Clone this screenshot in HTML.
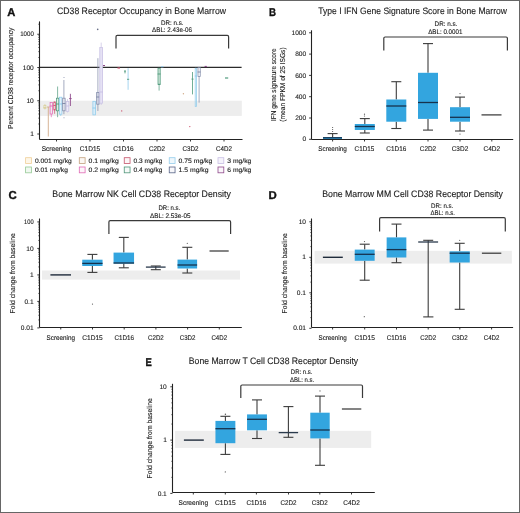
<!DOCTYPE html>
<html><head><meta charset="utf-8"><style>
.w{will-change:transform;}
text{text-rendering:geometricPrecision;}
html,body{margin:0;padding:0;background:#fff;width:520px;height:513px;overflow:hidden;font-family:"Liberation Sans",sans-serif;}
</style></head><body>
<div class="w"><svg width="520" height="513" viewBox="0 0 520 513" style="display:block">
<g font-family='"Liberation Sans", sans-serif' >
<rect x="0" y="0" width="520" height="513" fill="#fff" stroke="none" stroke-width="0"/>
<rect x="40.2" y="100.7" width="201.6" height="15.2" fill="#ededed" stroke="none" stroke-width="0"/>
<text x="7.2" y="16.1" font-size="11.2" fill="#111" font-weight="bold" stroke="#111" stroke-width="0.35">A</text>
<text x="57" y="14.2" font-size="9.3" fill="#222" stroke="#222" stroke-width="0.12" textLength="169" lengthAdjust="spacingAndGlyphs">CD38 Receptor Occupancy in Bone Marrow</text>
<text x="172.3" y="24.6" font-size="6.7" fill="#222" text-anchor="middle" stroke="#222" stroke-width="0.12" textLength="22.5" lengthAdjust="spacingAndGlyphs">DR: n.s.</text>
<text x="172.0" y="32.2" font-size="6.7" fill="#222" text-anchor="middle" stroke="#222" stroke-width="0.12" textLength="39.8" lengthAdjust="spacingAndGlyphs">ΔBL: 2.43e-06</text>
<path d="M116.0 48.5 L116.0 36.699999999999996 Q116.0 35.4 117.3 35.4 L227.29999999999998 35.4 Q228.6 35.4 228.6 36.699999999999996 L228.6 48.5" fill="none" stroke="#3a3a3a" stroke-width="1.2"/>
<line x1="39.5" y1="67.4" x2="241.6" y2="67.4" stroke="#2b2b2b" stroke-width="1.1"/>
<line x1="44.9" y1="104" x2="44.9" y2="105.5" stroke="#d9cf9a" stroke-width="0.7"/>
<line x1="44.9" y1="108.5" x2="44.9" y2="109.5" stroke="#d9cf9a" stroke-width="0.7"/>
<rect x="43.9" y="105.5" width="2.0" height="3.0" fill="none" stroke="#d9cf9a" stroke-width="0.75"/>
<line x1="43.5" y1="107.5" x2="46.3" y2="107.5" stroke="#d9cf9a" stroke-width="0.9"/>
<line x1="48.3" y1="107" x2="48.3" y2="136.5" stroke="#d2ac8a" stroke-width="0.9"/>
<line x1="47" y1="107" x2="49.6" y2="107" stroke="#d2ac8a" stroke-width="0.9"/>
<line x1="51.3" y1="114" x2="51.3" y2="117.2" stroke="#e467b8" stroke-width="0.7"/>
<rect x="50.099999999999994" y="102.5" width="2.4" height="11.5" fill="none" stroke="#e467b8" stroke-width="0.75"/>
<line x1="49.699999999999996" y1="106" x2="52.9" y2="106" stroke="#e467b8" stroke-width="0.9"/>
<line x1="54.6" y1="101.6" x2="54.6" y2="102" stroke="#cf5570" stroke-width="0.7"/>
<line x1="54.6" y1="110" x2="54.6" y2="113.8" stroke="#cf5570" stroke-width="0.7"/>
<rect x="53.800000000000004" y="102" width="1.6" height="8" fill="none" stroke="#cf5570" stroke-width="0.75"/>
<line x1="53.400000000000006" y1="105.5" x2="55.8" y2="105.5" stroke="#cf5570" stroke-width="0.9"/>
<line x1="57.6" y1="86.5" x2="57.6" y2="98.2" stroke="#4f9a7c" stroke-width="0.7"/>
<line x1="57.6" y1="110.8" x2="57.6" y2="117.2" stroke="#4f9a7c" stroke-width="0.7"/>
<rect x="56.4" y="98.2" width="2.4" height="12.599999999999994" fill="#dfeee7" stroke="#4f9a7c" stroke-width="0.75"/>
<line x1="56.0" y1="104" x2="59.2" y2="104" stroke="#4f9a7c" stroke-width="0.9"/>
<line x1="60.7" y1="97" x2="60.7" y2="97.2" stroke="#8fcbec" stroke-width="0.7"/>
<line x1="60.7" y1="114.2" x2="60.7" y2="116" stroke="#8fcbec" stroke-width="0.7"/>
<rect x="59.5" y="97.2" width="2.4" height="17.0" fill="#e4f2fb" stroke="#8fcbec" stroke-width="0.75"/>
<line x1="59.1" y1="104" x2="62.300000000000004" y2="104" stroke="#8fcbec" stroke-width="0.9"/>
<line x1="63.9" y1="80" x2="63.9" y2="98.2" stroke="#7c86a6" stroke-width="0.7"/>
<line x1="63.9" y1="110.8" x2="63.9" y2="114.2" stroke="#7c86a6" stroke-width="0.7"/>
<rect x="62.699999999999996" y="98.2" width="2.4" height="12.599999999999994" fill="#e6e8f0" stroke="#7c86a6" stroke-width="0.75"/>
<line x1="62.3" y1="103.5" x2="65.5" y2="103.5" stroke="#7c86a6" stroke-width="0.9"/>
<circle cx="64" cy="77.5" r="0.5" fill="#7c86a6"/>
<circle cx="64" cy="117.7" r="0.5" fill="#7c86a6"/>
<line x1="67.5" y1="99" x2="67.5" y2="101.6" stroke="#c7c0e4" stroke-width="0.7"/>
<line x1="67.5" y1="111.3" x2="67.5" y2="112.5" stroke="#c7c0e4" stroke-width="0.7"/>
<rect x="66.2" y="101.6" width="2.6" height="9.700000000000003" fill="#efedf8" stroke="#c7c0e4" stroke-width="0.75"/>
<line x1="65.8" y1="106" x2="69.2" y2="106" stroke="#c7c0e4" stroke-width="0.9"/>
<line x1="70.4" y1="93.8" x2="70.4" y2="106" stroke="#8f4a8c" stroke-width="0.9"/>
<line x1="69.2" y1="98.6" x2="71.6" y2="98.6" stroke="#8f4a8c" stroke-width="1.0"/>
<rect x="92.9" y="101.3" width="2.6" height="13.600000000000009" fill="#d9ecf8" stroke="#8fcbec" stroke-width="0.75"/>
<line x1="92.5" y1="108" x2="95.9" y2="108" stroke="#8fcbec" stroke-width="0.9"/>
<line x1="97.9" y1="58.2" x2="97.9" y2="92.5" stroke="#7c86a6" stroke-width="0.7"/>
<line x1="97.9" y1="104.2" x2="97.9" y2="111" stroke="#7c86a6" stroke-width="0.7"/>
<rect x="96.7" y="92.5" width="2.4" height="11.700000000000003" fill="#d6d9e6" stroke="#7c86a6" stroke-width="0.75"/>
<line x1="96.3" y1="97" x2="99.50000000000001" y2="97" stroke="#7c86a6" stroke-width="0.9"/>
<line x1="101.2" y1="42.6" x2="101.2" y2="47.5" stroke="#c7c0e4" stroke-width="0.7"/>
<line x1="101.2" y1="103.2" x2="101.2" y2="105" stroke="#c7c0e4" stroke-width="0.7"/>
<rect x="99.8" y="47.5" width="2.8" height="55.7" fill="#e6e2f4" stroke="#c7c0e4" stroke-width="0.75"/>
<line x1="99.39999999999999" y1="92" x2="103.00000000000001" y2="92" stroke="#c7c0e4" stroke-width="0.9"/>
<circle cx="97.7" cy="29.4" r="0.8" fill="#6a7088"/>
<line x1="103" y1="65.5" x2="105" y2="65.5" stroke="#8f4a8c" stroke-width="1.2"/>
<line x1="117.5" y1="68" x2="120" y2="68" stroke="#cf5570" stroke-width="1.2"/>
<circle cx="121.7" cy="110.9" r="0.7" fill="#cf5570"/>
<path d="M124 70.5 L126 70.5 L125 74 Z" fill="#4f9a7c"/>
<line x1="128.1" y1="68.2" x2="128.1" y2="89.8" stroke="#8fcbec" stroke-width="0.8"/>
<line x1="127" y1="79.3" x2="129.2" y2="79.3" stroke="#4f9a7c" stroke-width="0.9"/>
<line x1="159.1" y1="84.6" x2="159.1" y2="90.6" stroke="#4f9a7c" stroke-width="0.7"/>
<rect x="158.0" y="68.2" width="2.2" height="16.39999999999999" fill="#cfe5da" stroke="#4f9a7c" stroke-width="0.75"/>
<line x1="157.6" y1="74" x2="160.6" y2="74" stroke="#4f9a7c" stroke-width="0.9"/>
<line x1="158" y1="84.3" x2="160.3" y2="84.3" stroke="#4f9a7c" stroke-width="1"/>
<line x1="161" y1="66.8" x2="163.5" y2="66.8" stroke="#8fcbec" stroke-width="1"/>
<circle cx="183.4" cy="93.7" r="0.7" fill="#d2ac8a"/>
<circle cx="189.8" cy="126.6" r="0.7" fill="#cf5570"/>
<line x1="192.5" y1="72" x2="192.5" y2="94.4" stroke="#4f9a7c" stroke-width="0.8"/>
<line x1="191.5" y1="79.1" x2="193.5" y2="79.1" stroke="#4f9a7c" stroke-width="1"/>
<rect x="195.20000000000002" y="68.2" width="1.4" height="38.2" fill="none" stroke="#8fcbec" stroke-width="0.75"/>
<line x1="194.8" y1="76" x2="197.0" y2="76" stroke="#8fcbec" stroke-width="0.9"/>
<line x1="199.1" y1="76.4" x2="199.1" y2="102.6" stroke="#7c86a6" stroke-width="0.7"/>
<rect x="198.0" y="67.5" width="2.2" height="8.900000000000006" fill="none" stroke="#7c86a6" stroke-width="0.75"/>
<line x1="197.6" y1="72" x2="200.6" y2="72" stroke="#7c86a6" stroke-width="0.9"/>
<line x1="204.6" y1="66.5" x2="206.8" y2="66.5" stroke="#8f4a8c" stroke-width="1.2"/>
<line x1="225" y1="78" x2="228.2" y2="78" stroke="#4f9a7c" stroke-width="1.2"/>
<line x1="39.5" y1="21.4" x2="39.5" y2="139.5" stroke="#222" stroke-width="1.1"/>
<line x1="37.3" y1="134.0" x2="39.5" y2="134.0" stroke="#222" stroke-width="0.9"/>
<line x1="38.2" y1="123.99075264417263" x2="39.5" y2="123.99075264417263" stroke="#222" stroke-width="0.6"/>
<line x1="38.2" y1="118.13571828057123" x2="39.5" y2="118.13571828057123" stroke="#222" stroke-width="0.6"/>
<line x1="38.2" y1="113.98150528834525" x2="39.5" y2="113.98150528834525" stroke="#222" stroke-width="0.6"/>
<line x1="38.2" y1="110.75924735582737" x2="39.5" y2="110.75924735582737" stroke="#222" stroke-width="0.6"/>
<line x1="38.2" y1="108.12647092474384" x2="39.5" y2="108.12647092474384" stroke="#222" stroke-width="0.6"/>
<line x1="38.2" y1="105.90049016952597" x2="39.5" y2="105.90049016952597" stroke="#222" stroke-width="0.6"/>
<line x1="38.2" y1="103.97225793251788" x2="39.5" y2="103.97225793251788" stroke="#222" stroke-width="0.6"/>
<line x1="38.2" y1="102.27143656114245" x2="39.5" y2="102.27143656114245" stroke="#222" stroke-width="0.6"/>
<line x1="37.3" y1="100.75" x2="39.5" y2="100.75" stroke="#222" stroke-width="0.9"/>
<line x1="38.2" y1="90.74075264417263" x2="39.5" y2="90.74075264417263" stroke="#222" stroke-width="0.6"/>
<line x1="38.2" y1="84.88571828057123" x2="39.5" y2="84.88571828057123" stroke="#222" stroke-width="0.6"/>
<line x1="38.2" y1="80.73150528834525" x2="39.5" y2="80.73150528834525" stroke="#222" stroke-width="0.6"/>
<line x1="38.2" y1="77.50924735582737" x2="39.5" y2="77.50924735582737" stroke="#222" stroke-width="0.6"/>
<line x1="38.2" y1="74.87647092474384" x2="39.5" y2="74.87647092474384" stroke="#222" stroke-width="0.6"/>
<line x1="38.2" y1="72.65049016952597" x2="39.5" y2="72.65049016952597" stroke="#222" stroke-width="0.6"/>
<line x1="38.2" y1="70.72225793251788" x2="39.5" y2="70.72225793251788" stroke="#222" stroke-width="0.6"/>
<line x1="38.2" y1="69.02143656114245" x2="39.5" y2="69.02143656114245" stroke="#222" stroke-width="0.6"/>
<line x1="37.3" y1="67.5" x2="39.5" y2="67.5" stroke="#222" stroke-width="0.9"/>
<line x1="38.2" y1="57.49075264417263" x2="39.5" y2="57.49075264417263" stroke="#222" stroke-width="0.6"/>
<line x1="38.2" y1="51.63571828057121" x2="39.5" y2="51.63571828057121" stroke="#222" stroke-width="0.6"/>
<line x1="38.2" y1="47.48150528834525" x2="39.5" y2="47.48150528834525" stroke="#222" stroke-width="0.6"/>
<line x1="38.2" y1="44.25924735582737" x2="39.5" y2="44.25924735582737" stroke="#222" stroke-width="0.6"/>
<line x1="38.2" y1="41.626470924743856" x2="39.5" y2="41.626470924743856" stroke="#222" stroke-width="0.6"/>
<line x1="38.2" y1="39.40049016952595" x2="39.5" y2="39.40049016952595" stroke="#222" stroke-width="0.6"/>
<line x1="38.2" y1="37.47225793251786" x2="39.5" y2="37.47225793251786" stroke="#222" stroke-width="0.6"/>
<line x1="38.2" y1="35.77143656114245" x2="39.5" y2="35.77143656114245" stroke="#222" stroke-width="0.6"/>
<line x1="37.3" y1="34.25" x2="39.5" y2="34.25" stroke="#222" stroke-width="0.9"/>
<line x1="38.2" y1="24.24075264417263" x2="39.5" y2="24.24075264417263" stroke="#222" stroke-width="0.6"/>
<text x="33.8" y="136.1" font-size="6.6" fill="#222" text-anchor="end" stroke="#222" stroke-width="0.12">1</text>
<text x="33.8" y="102.85" font-size="6.6" fill="#222" text-anchor="end" stroke="#222" stroke-width="0.12">10</text>
<text x="33.8" y="69.6" font-size="6.6" fill="#222" text-anchor="end" stroke="#222" stroke-width="0.12">100</text>
<text x="33.8" y="36.35" font-size="6.6" fill="#222" text-anchor="end" stroke="#222" stroke-width="0.12" textLength="13.6" lengthAdjust="spacingAndGlyphs">1000</text>
<line x1="39.5" y1="139.5" x2="242.5" y2="139.5" stroke="#222" stroke-width="1.1"/>
<line x1="56.5" y1="139.5" x2="56.5" y2="141.5" stroke="#222" stroke-width="0.9"/>
<text x="56.5" y="151.0" font-size="6.8" fill="#222" text-anchor="middle" stroke="#222" stroke-width="0.12" textLength="29.7" lengthAdjust="spacingAndGlyphs">Screening</text>
<line x1="90" y1="139.5" x2="90" y2="141.5" stroke="#222" stroke-width="0.9"/>
<text x="90" y="151.0" font-size="6.8" fill="#222" text-anchor="middle" stroke="#222" stroke-width="0.12" textLength="20.3" lengthAdjust="spacingAndGlyphs">C1D15</text>
<line x1="123.5" y1="139.5" x2="123.5" y2="141.5" stroke="#222" stroke-width="0.9"/>
<text x="123.5" y="151.0" font-size="6.8" fill="#222" text-anchor="middle" stroke="#222" stroke-width="0.12" textLength="20.3" lengthAdjust="spacingAndGlyphs">C1D16</text>
<line x1="157" y1="139.5" x2="157" y2="141.5" stroke="#222" stroke-width="0.9"/>
<text x="157" y="151.0" font-size="6.8" fill="#222" text-anchor="middle" stroke="#222" stroke-width="0.12" textLength="16.1" lengthAdjust="spacingAndGlyphs">C2D2</text>
<line x1="190.5" y1="139.5" x2="190.5" y2="141.5" stroke="#222" stroke-width="0.9"/>
<text x="190.5" y="151.0" font-size="6.8" fill="#222" text-anchor="middle" stroke="#222" stroke-width="0.12" textLength="16.1" lengthAdjust="spacingAndGlyphs">C3D2</text>
<line x1="224" y1="139.5" x2="224" y2="141.5" stroke="#222" stroke-width="0.9"/>
<text x="224" y="151.0" font-size="6.8" fill="#222" text-anchor="middle" stroke="#222" stroke-width="0.12" textLength="16" lengthAdjust="spacingAndGlyphs">C4D2</text>
<text x="13.0" y="78.3" font-size="7.2" fill="#222" text-anchor="middle" stroke="#222" stroke-width="0.12" textLength="101.3" lengthAdjust="spacingAndGlyphs" transform="rotate(-90 13.0 78.3)">Percent CD38 receptor occupancy</text>
<rect x="25.6" y="157.7" width="5.8" height="5.8" fill="#fdf6e8" stroke="#efcf98" stroke-width="0.8"/>
<text x="34.900000000000006" y="162.6" font-size="6.4" fill="#222" stroke="#222" stroke-width="0.12" textLength="36.9" lengthAdjust="spacingAndGlyphs">0.001 mg/kg</text>
<rect x="79.3" y="157.7" width="5.8" height="5.8" fill="#fbf7f3" stroke="#c2a07e" stroke-width="0.8"/>
<text x="88.6" y="162.6" font-size="6.4" fill="#222" stroke="#222" stroke-width="0.12" textLength="30.1" lengthAdjust="spacingAndGlyphs">0.1 mg/kg</text>
<rect x="124.25" y="157.7" width="5.8" height="5.8" fill="#fcf6f7" stroke="#c55369" stroke-width="0.8"/>
<text x="133.55" y="162.6" font-size="6.4" fill="#222" stroke="#222" stroke-width="0.12" textLength="28.75" lengthAdjust="spacingAndGlyphs">0.3 mg/kg</text>
<rect x="169.25" y="157.7" width="5.8" height="5.8" fill="#eef7fc" stroke="#94cdec" stroke-width="0.8"/>
<text x="178.55" y="162.6" font-size="6.4" fill="#222" stroke="#222" stroke-width="0.12" textLength="33.75" lengthAdjust="spacingAndGlyphs">0.75 mg/kg</text>
<rect x="218.0" y="157.7" width="5.8" height="5.8" fill="#f5f3fb" stroke="#c8bfe4" stroke-width="0.8"/>
<text x="227.3" y="162.6" font-size="6.4" fill="#222" stroke="#222" stroke-width="0.12" textLength="24" lengthAdjust="spacingAndGlyphs">3 mg/kg</text>
<rect x="25.6" y="167.0" width="5.8" height="5.8" fill="#f0f8f0" stroke="#95c995" stroke-width="0.8"/>
<text x="34.900000000000006" y="171.9" font-size="6.4" fill="#222" stroke="#222" stroke-width="0.12" textLength="33" lengthAdjust="spacingAndGlyphs">0.01 mg/kg</text>
<rect x="79.3" y="167.0" width="5.8" height="5.8" fill="#fdf5fa" stroke="#e06ab6" stroke-width="0.8"/>
<text x="88.6" y="171.9" font-size="6.4" fill="#222" stroke="#222" stroke-width="0.12" textLength="30.1" lengthAdjust="spacingAndGlyphs">0.2 mg/kg</text>
<rect x="124.25" y="167.0" width="5.8" height="5.8" fill="#f6faf8" stroke="#4f9478" stroke-width="0.8"/>
<text x="133.55" y="171.9" font-size="6.4" fill="#222" stroke="#222" stroke-width="0.12" textLength="28.75" lengthAdjust="spacingAndGlyphs">0.4 mg/kg</text>
<rect x="169.25" y="167.0" width="5.8" height="5.8" fill="#f7f7fa" stroke="#586488" stroke-width="0.8"/>
<text x="178.55" y="171.9" font-size="6.4" fill="#222" stroke="#222" stroke-width="0.12" textLength="30" lengthAdjust="spacingAndGlyphs">1.5 mg/kg</text>
<rect x="218.0" y="167.0" width="5.8" height="5.8" fill="#faf6fa" stroke="#8f4a8c" stroke-width="0.8"/>
<text x="227.3" y="171.9" font-size="6.4" fill="#222" stroke="#222" stroke-width="0.12" textLength="24" lengthAdjust="spacingAndGlyphs">6 mg/kg</text>
<text x="268.9" y="16.1" font-size="11.2" fill="#111" font-weight="bold" stroke="#111" stroke-width="0.35" textLength="7.0" lengthAdjust="spacingAndGlyphs">B</text>
<text x="318.3" y="14.2" font-size="9.3" fill="#222" stroke="#222" stroke-width="0.12" textLength="188.7" lengthAdjust="spacingAndGlyphs">Type I IFN Gene Signature Score in Bone Marrow</text>
<text x="446.0" y="26.3" font-size="6.7" fill="#222" text-anchor="middle" stroke="#222" stroke-width="0.12" textLength="22.9" lengthAdjust="spacingAndGlyphs">DR: n.s.</text>
<text x="445.3" y="33.9" font-size="6.7" fill="#222" text-anchor="middle" stroke="#222" stroke-width="0.12" textLength="34.2" lengthAdjust="spacingAndGlyphs">ΔBL: 0.0001</text>
<path d="M383.8 50.4 L383.8 38.3 Q383.8 37.0 385.1 37.0 L506.09999999999997 37.0 Q507.4 37.0 507.4 38.3 L507.4 50.4" fill="none" stroke="#3a3a3a" stroke-width="1.2"/>
<line x1="332.6" y1="133.6" x2="332.6" y2="139.3" stroke="#3c3c3c" stroke-width="1.1"/>
<line x1="327.6" y1="133.6" x2="337.6" y2="133.6" stroke="#3c3c3c" stroke-width="1.1"/>
<rect x="323" y="137" width="19" height="2.3" fill="#33a5df" stroke="none" stroke-width="0"/>
<line x1="323" y1="137.8" x2="342" y2="137.8" stroke="#17324d" stroke-width="1.3"/>
<circle cx="332.6" cy="127.5" r="0.6" fill="#555"/>
<circle cx="332.6" cy="129.5" r="0.6" fill="#555"/>
<circle cx="332.6" cy="131.5" r="0.6" fill="#555"/>
<circle cx="332.6" cy="135.5" r="0.6" fill="#555"/>
<line x1="364.8" y1="118.6" x2="364.8" y2="124.0" stroke="#3c3c3c" stroke-width="1.1"/>
<line x1="359.8" y1="118.6" x2="369.8" y2="118.6" stroke="#3c3c3c" stroke-width="1.1"/>
<line x1="364.8" y1="130.0" x2="364.8" y2="133.0" stroke="#3c3c3c" stroke-width="1.1"/>
<line x1="359.8" y1="133.0" x2="369.8" y2="133.0" stroke="#3c3c3c" stroke-width="1.1"/>
<rect x="354.8" y="124.0" width="20" height="6.0" fill="#33a5df" stroke="none" stroke-width="0"/>
<line x1="354.8" y1="126.5" x2="374.8" y2="126.5" stroke="#17324d" stroke-width="1.3"/>
<circle cx="364.5" cy="116.0" r="0.6" fill="#555"/>
<circle cx="364.5" cy="114.2" r="0.6" fill="#555"/>
<line x1="396.3" y1="81.7" x2="396.3" y2="99.5" stroke="#3c3c3c" stroke-width="1.1"/>
<line x1="391.3" y1="81.7" x2="401.3" y2="81.7" stroke="#3c3c3c" stroke-width="1.1"/>
<line x1="396.3" y1="121.7" x2="396.3" y2="128.5" stroke="#3c3c3c" stroke-width="1.1"/>
<line x1="391.3" y1="128.5" x2="401.3" y2="128.5" stroke="#3c3c3c" stroke-width="1.1"/>
<rect x="386.3" y="99.5" width="20" height="22.200000000000003" fill="#33a5df" stroke="none" stroke-width="0"/>
<line x1="386.3" y1="106.0" x2="406.3" y2="106.0" stroke="#17324d" stroke-width="1.3"/>
<line x1="428.0" y1="43.6" x2="428.0" y2="72.8" stroke="#3c3c3c" stroke-width="1.1"/>
<line x1="423.0" y1="43.6" x2="433.0" y2="43.6" stroke="#3c3c3c" stroke-width="1.1"/>
<line x1="428.0" y1="118.9" x2="428.0" y2="130.1" stroke="#3c3c3c" stroke-width="1.1"/>
<line x1="423.0" y1="130.1" x2="433.0" y2="130.1" stroke="#3c3c3c" stroke-width="1.1"/>
<rect x="418.0" y="72.8" width="20" height="46.10000000000001" fill="#33a5df" stroke="none" stroke-width="0"/>
<line x1="418.0" y1="102.5" x2="438.0" y2="102.5" stroke="#17324d" stroke-width="1.3"/>
<line x1="460.0" y1="97.1" x2="460.0" y2="107.2" stroke="#3c3c3c" stroke-width="1.1"/>
<line x1="455.0" y1="97.1" x2="465.0" y2="97.1" stroke="#3c3c3c" stroke-width="1.1"/>
<line x1="460.0" y1="121.7" x2="460.0" y2="131.0" stroke="#3c3c3c" stroke-width="1.1"/>
<line x1="455.0" y1="131.0" x2="465.0" y2="131.0" stroke="#3c3c3c" stroke-width="1.1"/>
<rect x="450.0" y="107.2" width="20" height="14.5" fill="#33a5df" stroke="none" stroke-width="0"/>
<line x1="450.0" y1="117.3" x2="470.0" y2="117.3" stroke="#17324d" stroke-width="1.3"/>
<circle cx="460" cy="93.6" r="0.6" fill="#555"/>
<circle cx="460" cy="134.1" r="0.6" fill="#555"/>
<line x1="481.5" y1="114.9" x2="501.5" y2="114.9" stroke="#333" stroke-width="1.2"/>
<line x1="311.5" y1="30.3" x2="311.5" y2="139.5" stroke="#222" stroke-width="1.1"/>
<line x1="309.1" y1="139.3" x2="311.5" y2="139.3" stroke="#222" stroke-width="0.9"/>
<text x="306.2" y="141.4" font-size="6.6" fill="#222" text-anchor="end" stroke="#222" stroke-width="0.12">0</text>
<line x1="309.1" y1="118.00000000000001" x2="311.5" y2="118.00000000000001" stroke="#222" stroke-width="0.9"/>
<text x="306.2" y="120.10000000000001" font-size="6.6" fill="#222" text-anchor="end" stroke="#222" stroke-width="0.12">200</text>
<line x1="309.1" y1="96.70000000000002" x2="311.5" y2="96.70000000000002" stroke="#222" stroke-width="0.9"/>
<text x="306.2" y="98.80000000000001" font-size="6.6" fill="#222" text-anchor="end" stroke="#222" stroke-width="0.12">400</text>
<line x1="309.1" y1="75.4" x2="311.5" y2="75.4" stroke="#222" stroke-width="0.9"/>
<text x="306.2" y="77.5" font-size="6.6" fill="#222" text-anchor="end" stroke="#222" stroke-width="0.12">600</text>
<line x1="309.1" y1="54.10000000000001" x2="311.5" y2="54.10000000000001" stroke="#222" stroke-width="0.9"/>
<text x="306.2" y="56.20000000000001" font-size="6.6" fill="#222" text-anchor="end" stroke="#222" stroke-width="0.12">800</text>
<line x1="309.1" y1="32.80000000000001" x2="311.5" y2="32.80000000000001" stroke="#222" stroke-width="0.9"/>
<text x="306.2" y="34.90000000000001" font-size="6.6" fill="#222" text-anchor="end" stroke="#222" stroke-width="0.12">1000</text>
<line x1="311.5" y1="139.5" x2="513.2" y2="139.5" stroke="#222" stroke-width="1.1"/>
<line x1="332.6" y1="139.5" x2="332.6" y2="141.5" stroke="#222" stroke-width="0.9"/>
<text x="332.6" y="151.2" font-size="6.8" fill="#222" text-anchor="middle" stroke="#222" stroke-width="0.12" textLength="28.6" lengthAdjust="spacingAndGlyphs">Screening</text>
<line x1="364.5" y1="139.5" x2="364.5" y2="141.5" stroke="#222" stroke-width="0.9"/>
<text x="364.5" y="151.2" font-size="6.8" fill="#222" text-anchor="middle" stroke="#222" stroke-width="0.12" textLength="19.8" lengthAdjust="spacingAndGlyphs">C1D15</text>
<line x1="396.3" y1="139.5" x2="396.3" y2="141.5" stroke="#222" stroke-width="0.9"/>
<text x="396.3" y="151.2" font-size="6.8" fill="#222" text-anchor="middle" stroke="#222" stroke-width="0.12" textLength="20" lengthAdjust="spacingAndGlyphs">C1D16</text>
<line x1="428.0" y1="139.5" x2="428.0" y2="141.5" stroke="#222" stroke-width="0.9"/>
<text x="428.0" y="151.2" font-size="6.8" fill="#222" text-anchor="middle" stroke="#222" stroke-width="0.12" textLength="16.4" lengthAdjust="spacingAndGlyphs">C2D2</text>
<line x1="460.0" y1="139.5" x2="460.0" y2="141.5" stroke="#222" stroke-width="0.9"/>
<text x="460.0" y="151.2" font-size="6.8" fill="#222" text-anchor="middle" stroke="#222" stroke-width="0.12" textLength="16.6" lengthAdjust="spacingAndGlyphs">C3D2</text>
<line x1="491.8" y1="139.5" x2="491.8" y2="141.5" stroke="#222" stroke-width="0.9"/>
<text x="491.8" y="151.2" font-size="6.8" fill="#222" text-anchor="middle" stroke="#222" stroke-width="0.12" textLength="16.7" lengthAdjust="spacingAndGlyphs">C4D2</text>
<text x="276.3" y="84.7" font-size="7.2" fill="#222" text-anchor="middle" stroke="#222" stroke-width="0.12" textLength="72.7" lengthAdjust="spacingAndGlyphs" transform="rotate(-90 276.3 84.7)">IFN gene signature score</text>
<text x="284.8" y="84.5" font-size="7.2" fill="#222" text-anchor="middle" stroke="#222" stroke-width="0.12" textLength="74.3" lengthAdjust="spacingAndGlyphs" transform="rotate(-90 284.8 84.5)">(mean FPKM of 25 ISGs)</text>
<rect x="42.0" y="270.5" width="198.0" height="9.1" fill="#ededed" stroke="none" stroke-width="0"/>
<text x="8.5" y="199.0" font-size="11.4" fill="#111" font-weight="bold" stroke="#111" stroke-width="0.35">C</text>
<text x="52.3" y="196.8" font-size="9.3" fill="#222" stroke="#222" stroke-width="0.12" textLength="178.5" lengthAdjust="spacingAndGlyphs">Bone Marrow NK Cell CD38 Receptor Density</text>
<text x="169.4" y="209.8" font-size="6.7" fill="#222" text-anchor="middle" stroke="#222" stroke-width="0.12" textLength="21.8" lengthAdjust="spacingAndGlyphs">DR: n.s.</text>
<text x="170.2" y="218.0" font-size="6.7" fill="#222" text-anchor="middle" stroke="#222" stroke-width="0.12" textLength="40.5" lengthAdjust="spacingAndGlyphs">ΔBL: 2.53e-05</text>
<path d="M108.9 234 L108.9 221.9 Q108.9 220.6 110.2 220.6 L229.29999999999998 220.6 Q230.6 220.6 230.6 221.9 L230.6 234" fill="none" stroke="#3a3a3a" stroke-width="1.2"/>
<line x1="50.4" y1="274.9" x2="71" y2="274.9" stroke="#1f2b3b" stroke-width="1.4"/>
<line x1="92.4" y1="254.4" x2="92.4" y2="259.7" stroke="#3c3c3c" stroke-width="1.1"/>
<line x1="87.4" y1="254.4" x2="97.4" y2="254.4" stroke="#3c3c3c" stroke-width="1.1"/>
<line x1="92.4" y1="266.0" x2="92.4" y2="272.4" stroke="#3c3c3c" stroke-width="1.1"/>
<line x1="87.4" y1="272.4" x2="97.4" y2="272.4" stroke="#3c3c3c" stroke-width="1.1"/>
<rect x="82.25" y="259.7" width="20.3" height="6.300000000000011" fill="#33a5df" stroke="none" stroke-width="0"/>
<line x1="82.25" y1="263.4" x2="102.55000000000001" y2="263.4" stroke="#17324d" stroke-width="1.3"/>
<circle cx="92.5" cy="304.1" r="0.6" fill="#555"/>
<line x1="123.8" y1="237.4" x2="123.8" y2="252.6" stroke="#3c3c3c" stroke-width="1.1"/>
<line x1="118.8" y1="237.4" x2="128.8" y2="237.4" stroke="#3c3c3c" stroke-width="1.1"/>
<line x1="123.8" y1="263.6" x2="123.8" y2="267.8" stroke="#3c3c3c" stroke-width="1.1"/>
<line x1="118.8" y1="267.8" x2="128.8" y2="267.8" stroke="#3c3c3c" stroke-width="1.1"/>
<rect x="113.55" y="252.6" width="20.5" height="11.000000000000028" fill="#33a5df" stroke="none" stroke-width="0"/>
<line x1="113.55" y1="263.0" x2="134.05" y2="263.0" stroke="#17324d" stroke-width="1.3"/>
<line x1="155.8" y1="266" x2="155.8" y2="269.7" stroke="#3c3c3c" stroke-width="1.1"/>
<line x1="150.8" y1="266" x2="160.8" y2="266" stroke="#3c3c3c" stroke-width="1.1"/>
<line x1="150.8" y1="269.7" x2="160.8" y2="269.7" stroke="#3c3c3c" stroke-width="1.1"/>
<line x1="145.9" y1="267.1" x2="165.6" y2="267.1" stroke="#2a3a4c" stroke-width="1.3"/>
<line x1="187.3" y1="247.3" x2="187.3" y2="259.6" stroke="#3c3c3c" stroke-width="1.1"/>
<line x1="182.3" y1="247.3" x2="192.3" y2="247.3" stroke="#3c3c3c" stroke-width="1.1"/>
<line x1="187.3" y1="268.5" x2="187.3" y2="273.0" stroke="#3c3c3c" stroke-width="1.1"/>
<line x1="182.3" y1="273.0" x2="192.3" y2="273.0" stroke="#3c3c3c" stroke-width="1.1"/>
<rect x="177.5" y="259.6" width="19.6" height="8.899999999999977" fill="#33a5df" stroke="none" stroke-width="0"/>
<line x1="177.5" y1="265.0" x2="197.10000000000002" y2="265.0" stroke="#17324d" stroke-width="1.3"/>
<circle cx="187.3" cy="243.3" r="0.6" fill="#555"/>
<line x1="209.5" y1="251.0" x2="228.7" y2="251.0" stroke="#333" stroke-width="1.2"/>
<line x1="39.5" y1="218.5" x2="39.5" y2="327.5" stroke="#222" stroke-width="1.1"/>
<line x1="37.3" y1="327.9" x2="39.5" y2="327.9" stroke="#222" stroke-width="0.9"/>
<line x1="38.2" y1="319.9227051149045" x2="39.5" y2="319.9227051149045" stroke="#222" stroke-width="0.6"/>
<line x1="38.2" y1="315.2562867499289" x2="39.5" y2="315.2562867499289" stroke="#222" stroke-width="0.6"/>
<line x1="38.2" y1="311.945410229809" x2="39.5" y2="311.945410229809" stroke="#222" stroke-width="0.6"/>
<line x1="38.2" y1="309.37729488509547" x2="39.5" y2="309.37729488509547" stroke="#222" stroke-width="0.6"/>
<line x1="38.2" y1="307.2789918648334" x2="39.5" y2="307.2789918648334" stroke="#222" stroke-width="0.6"/>
<line x1="38.2" y1="305.5049019396222" x2="39.5" y2="305.5049019396222" stroke="#222" stroke-width="0.6"/>
<line x1="38.2" y1="303.96811534471345" x2="39.5" y2="303.96811534471345" stroke="#222" stroke-width="0.6"/>
<line x1="38.2" y1="302.6125734998579" x2="39.5" y2="302.6125734998579" stroke="#222" stroke-width="0.6"/>
<line x1="37.3" y1="301.4" x2="39.5" y2="301.4" stroke="#222" stroke-width="0.9"/>
<line x1="38.2" y1="293.4227051149045" x2="39.5" y2="293.4227051149045" stroke="#222" stroke-width="0.6"/>
<line x1="38.2" y1="288.7562867499289" x2="39.5" y2="288.7562867499289" stroke="#222" stroke-width="0.6"/>
<line x1="38.2" y1="285.445410229809" x2="39.5" y2="285.445410229809" stroke="#222" stroke-width="0.6"/>
<line x1="38.2" y1="282.87729488509547" x2="39.5" y2="282.87729488509547" stroke="#222" stroke-width="0.6"/>
<line x1="38.2" y1="280.7789918648334" x2="39.5" y2="280.7789918648334" stroke="#222" stroke-width="0.6"/>
<line x1="38.2" y1="279.0049019396222" x2="39.5" y2="279.0049019396222" stroke="#222" stroke-width="0.6"/>
<line x1="38.2" y1="277.46811534471345" x2="39.5" y2="277.46811534471345" stroke="#222" stroke-width="0.6"/>
<line x1="38.2" y1="276.1125734998579" x2="39.5" y2="276.1125734998579" stroke="#222" stroke-width="0.6"/>
<line x1="37.3" y1="274.9" x2="39.5" y2="274.9" stroke="#222" stroke-width="0.9"/>
<line x1="38.2" y1="266.9227051149045" x2="39.5" y2="266.9227051149045" stroke="#222" stroke-width="0.6"/>
<line x1="38.2" y1="262.2562867499289" x2="39.5" y2="262.2562867499289" stroke="#222" stroke-width="0.6"/>
<line x1="38.2" y1="258.945410229809" x2="39.5" y2="258.945410229809" stroke="#222" stroke-width="0.6"/>
<line x1="38.2" y1="256.37729488509547" x2="39.5" y2="256.37729488509547" stroke="#222" stroke-width="0.6"/>
<line x1="38.2" y1="254.27899186483342" x2="39.5" y2="254.27899186483342" stroke="#222" stroke-width="0.6"/>
<line x1="38.2" y1="252.5049019396222" x2="39.5" y2="252.5049019396222" stroke="#222" stroke-width="0.6"/>
<line x1="38.2" y1="250.96811534471348" x2="39.5" y2="250.96811534471348" stroke="#222" stroke-width="0.6"/>
<line x1="38.2" y1="249.61257349985786" x2="39.5" y2="249.61257349985786" stroke="#222" stroke-width="0.6"/>
<line x1="37.3" y1="248.39999999999998" x2="39.5" y2="248.39999999999998" stroke="#222" stroke-width="0.9"/>
<line x1="38.2" y1="240.4227051149045" x2="39.5" y2="240.4227051149045" stroke="#222" stroke-width="0.6"/>
<line x1="38.2" y1="235.75628674992893" x2="39.5" y2="235.75628674992893" stroke="#222" stroke-width="0.6"/>
<line x1="38.2" y1="232.44541022980897" x2="39.5" y2="232.44541022980897" stroke="#222" stroke-width="0.6"/>
<line x1="38.2" y1="229.87729488509547" x2="39.5" y2="229.87729488509547" stroke="#222" stroke-width="0.6"/>
<line x1="38.2" y1="227.77899186483342" x2="39.5" y2="227.77899186483342" stroke="#222" stroke-width="0.6"/>
<line x1="38.2" y1="226.0049019396222" x2="39.5" y2="226.0049019396222" stroke="#222" stroke-width="0.6"/>
<line x1="38.2" y1="224.46811534471348" x2="39.5" y2="224.46811534471348" stroke="#222" stroke-width="0.6"/>
<line x1="38.2" y1="223.1125734998579" x2="39.5" y2="223.1125734998579" stroke="#222" stroke-width="0.6"/>
<line x1="37.3" y1="221.89999999999998" x2="39.5" y2="221.89999999999998" stroke="#222" stroke-width="0.9"/>
<text x="33.6" y="330.0" font-size="6.6" fill="#222" text-anchor="end" stroke="#222" stroke-width="0.12">0.01</text>
<text x="33.6" y="303.5" font-size="6.6" fill="#222" text-anchor="end" stroke="#222" stroke-width="0.12">0.1</text>
<text x="33.6" y="277.0" font-size="6.6" fill="#222" text-anchor="end" stroke="#222" stroke-width="0.12">1</text>
<text x="33.6" y="250.49999999999997" font-size="6.6" fill="#222" text-anchor="end" stroke="#222" stroke-width="0.12">10</text>
<text x="33.6" y="223.99999999999997" font-size="6.6" fill="#222" text-anchor="end" stroke="#222" stroke-width="0.12" textLength="9.6" lengthAdjust="spacingAndGlyphs">100</text>
<line x1="39.5" y1="327.5" x2="241.8" y2="327.5" stroke="#222" stroke-width="1.1"/>
<line x1="60.75" y1="327.5" x2="60.75" y2="329.5" stroke="#222" stroke-width="0.9"/>
<text x="60.75" y="340.0" font-size="6.8" fill="#222" text-anchor="middle" stroke="#222" stroke-width="0.12" textLength="28.3" lengthAdjust="spacingAndGlyphs">Screening</text>
<line x1="92.5" y1="327.5" x2="92.5" y2="329.5" stroke="#222" stroke-width="0.9"/>
<text x="92.5" y="340.0" font-size="6.8" fill="#222" text-anchor="middle" stroke="#222" stroke-width="0.12" textLength="20.5" lengthAdjust="spacingAndGlyphs">C1D15</text>
<line x1="124.2" y1="327.5" x2="124.2" y2="329.5" stroke="#222" stroke-width="0.9"/>
<text x="124.2" y="340.0" font-size="6.8" fill="#222" text-anchor="middle" stroke="#222" stroke-width="0.12" textLength="19.5" lengthAdjust="spacingAndGlyphs">C1D16</text>
<line x1="155.9" y1="327.5" x2="155.9" y2="329.5" stroke="#222" stroke-width="0.9"/>
<text x="155.9" y="340.0" font-size="6.8" fill="#222" text-anchor="middle" stroke="#222" stroke-width="0.12" textLength="15.8" lengthAdjust="spacingAndGlyphs">C2D2</text>
<line x1="187.6" y1="327.5" x2="187.6" y2="329.5" stroke="#222" stroke-width="0.9"/>
<text x="187.6" y="340.0" font-size="6.8" fill="#222" text-anchor="middle" stroke="#222" stroke-width="0.12" textLength="15.8" lengthAdjust="spacingAndGlyphs">C3D2</text>
<line x1="219.3" y1="327.5" x2="219.3" y2="329.5" stroke="#222" stroke-width="0.9"/>
<text x="219.3" y="340.0" font-size="6.8" fill="#222" text-anchor="middle" stroke="#222" stroke-width="0.12" textLength="15.7" lengthAdjust="spacingAndGlyphs">C4D2</text>
<text x="14.9" y="273.3" font-size="7.2" fill="#222" text-anchor="middle" stroke="#222" stroke-width="0.12" textLength="80.3" lengthAdjust="spacingAndGlyphs" transform="rotate(-90 14.9 273.3)">Fold change from baseline</text>
<rect x="314.6" y="250.8" width="197.2" height="12.8" fill="#ededed" stroke="none" stroke-width="0"/>
<text x="268.6" y="199.0" font-size="11.4" fill="#111" font-weight="bold" stroke="#111" stroke-width="0.35">D</text>
<text x="322.2" y="196.8" font-size="9.3" fill="#222" stroke="#222" stroke-width="0.12" textLength="180.7" lengthAdjust="spacingAndGlyphs">Bone Marrow MM Cell CD38 Receptor Density</text>
<text x="442.2" y="207.5" font-size="6.7" fill="#222" text-anchor="middle" stroke="#222" stroke-width="0.12" textLength="22.2" lengthAdjust="spacingAndGlyphs">DR: n.s.</text>
<text x="442.7" y="215.0" font-size="6.7" fill="#222" text-anchor="middle" stroke="#222" stroke-width="0.12" textLength="24.6" lengthAdjust="spacingAndGlyphs">ΔBL: n.s.</text>
<path d="M379.6 231.5 L379.6 218.9 Q379.6 217.6 380.90000000000003 217.6 L504.0 217.6 Q505.3 217.6 505.3 218.9 L505.3 231.5" fill="none" stroke="#3a3a3a" stroke-width="1.2"/>
<line x1="322.9" y1="257.3" x2="342.8" y2="257.3" stroke="#1f2b3b" stroke-width="1.4"/>
<line x1="364.7" y1="244.2" x2="364.7" y2="249.6" stroke="#3c3c3c" stroke-width="1.1"/>
<line x1="359.7" y1="244.2" x2="369.7" y2="244.2" stroke="#3c3c3c" stroke-width="1.1"/>
<line x1="364.7" y1="260.8" x2="364.7" y2="280.2" stroke="#3c3c3c" stroke-width="1.1"/>
<line x1="359.7" y1="280.2" x2="369.7" y2="280.2" stroke="#3c3c3c" stroke-width="1.1"/>
<rect x="354.75" y="249.6" width="19.9" height="11.200000000000017" fill="#33a5df" stroke="none" stroke-width="0"/>
<line x1="354.75" y1="254.3" x2="374.65" y2="254.3" stroke="#17324d" stroke-width="1.3"/>
<circle cx="364.5" cy="241.6" r="0.6" fill="#555"/>
<circle cx="364.3" cy="316.7" r="0.6" fill="#555"/>
<line x1="396.5" y1="224.1" x2="396.5" y2="237.4" stroke="#3c3c3c" stroke-width="1.1"/>
<line x1="391.5" y1="224.1" x2="401.5" y2="224.1" stroke="#3c3c3c" stroke-width="1.1"/>
<line x1="396.5" y1="257.5" x2="396.5" y2="262.7" stroke="#3c3c3c" stroke-width="1.1"/>
<line x1="391.5" y1="262.7" x2="401.5" y2="262.7" stroke="#3c3c3c" stroke-width="1.1"/>
<rect x="386.65" y="237.4" width="19.7" height="20.099999999999994" fill="#33a5df" stroke="none" stroke-width="0"/>
<line x1="386.65" y1="249.6" x2="406.35" y2="249.6" stroke="#17324d" stroke-width="1.3"/>
<line x1="428.2" y1="240.3" x2="428.2" y2="316.9" stroke="#3c3c3c" stroke-width="1.1"/>
<line x1="423.2" y1="240.3" x2="433.2" y2="240.3" stroke="#3c3c3c" stroke-width="1.1"/>
<line x1="423.2" y1="316.9" x2="433.4" y2="316.9" stroke="#3c3c3c" stroke-width="1.1"/>
<line x1="418.2" y1="242.0" x2="438.1" y2="242.0" stroke="#2a3a4c" stroke-width="1.3"/>
<line x1="459.7" y1="243.3" x2="459.7" y2="251.3" stroke="#3c3c3c" stroke-width="1.1"/>
<line x1="454.7" y1="243.3" x2="464.7" y2="243.3" stroke="#3c3c3c" stroke-width="1.1"/>
<line x1="459.7" y1="262.5" x2="459.7" y2="309.3" stroke="#3c3c3c" stroke-width="1.1"/>
<line x1="454.7" y1="309.3" x2="464.7" y2="309.3" stroke="#3c3c3c" stroke-width="1.1"/>
<rect x="449.65" y="251.3" width="20.1" height="11.199999999999989" fill="#33a5df" stroke="none" stroke-width="0"/>
<line x1="449.65" y1="253.2" x2="469.75" y2="253.2" stroke="#17324d" stroke-width="1.3"/>
<circle cx="459.7" cy="240.3" r="0.6" fill="#555"/>
<line x1="481.9" y1="253.2" x2="501.3" y2="253.2" stroke="#333" stroke-width="1.2"/>
<line x1="311.5" y1="218.5" x2="311.5" y2="327.5" stroke="#222" stroke-width="1.1"/>
<line x1="309.3" y1="328.3" x2="311.5" y2="328.3" stroke="#222" stroke-width="0.9"/>
<line x1="310.2" y1="317.61343515392866" x2="311.5" y2="317.61343515392866" stroke="#222" stroke-width="0.6"/>
<line x1="310.2" y1="311.362195457452" x2="311.5" y2="311.362195457452" stroke="#222" stroke-width="0.6"/>
<line x1="310.2" y1="306.92687030785737" x2="311.5" y2="306.92687030785737" stroke="#222" stroke-width="0.6"/>
<line x1="310.2" y1="303.48656484607136" x2="311.5" y2="303.48656484607136" stroke="#222" stroke-width="0.6"/>
<line x1="310.2" y1="300.67563061138065" x2="311.5" y2="300.67563061138065" stroke="#222" stroke-width="0.6"/>
<line x1="310.2" y1="298.2990195794939" x2="311.5" y2="298.2990195794939" stroke="#222" stroke-width="0.6"/>
<line x1="310.2" y1="296.240305461786" x2="311.5" y2="296.240305461786" stroke="#222" stroke-width="0.6"/>
<line x1="310.2" y1="294.424390914904" x2="311.5" y2="294.424390914904" stroke="#222" stroke-width="0.6"/>
<line x1="309.3" y1="292.8" x2="311.5" y2="292.8" stroke="#222" stroke-width="0.9"/>
<line x1="310.2" y1="282.11343515392866" x2="311.5" y2="282.11343515392866" stroke="#222" stroke-width="0.6"/>
<line x1="310.2" y1="275.862195457452" x2="311.5" y2="275.862195457452" stroke="#222" stroke-width="0.6"/>
<line x1="310.2" y1="271.42687030785737" x2="311.5" y2="271.42687030785737" stroke="#222" stroke-width="0.6"/>
<line x1="310.2" y1="267.98656484607136" x2="311.5" y2="267.98656484607136" stroke="#222" stroke-width="0.6"/>
<line x1="310.2" y1="265.17563061138065" x2="311.5" y2="265.17563061138065" stroke="#222" stroke-width="0.6"/>
<line x1="310.2" y1="262.7990195794939" x2="311.5" y2="262.7990195794939" stroke="#222" stroke-width="0.6"/>
<line x1="310.2" y1="260.740305461786" x2="311.5" y2="260.740305461786" stroke="#222" stroke-width="0.6"/>
<line x1="310.2" y1="258.924390914904" x2="311.5" y2="258.924390914904" stroke="#222" stroke-width="0.6"/>
<line x1="309.3" y1="257.3" x2="311.5" y2="257.3" stroke="#222" stroke-width="0.9"/>
<line x1="310.2" y1="246.6134351539287" x2="311.5" y2="246.6134351539287" stroke="#222" stroke-width="0.6"/>
<line x1="310.2" y1="240.362195457452" x2="311.5" y2="240.362195457452" stroke="#222" stroke-width="0.6"/>
<line x1="310.2" y1="235.92687030785734" x2="311.5" y2="235.92687030785734" stroke="#222" stroke-width="0.6"/>
<line x1="310.2" y1="232.48656484607133" x2="311.5" y2="232.48656484607133" stroke="#222" stroke-width="0.6"/>
<line x1="310.2" y1="229.67563061138065" x2="311.5" y2="229.67563061138065" stroke="#222" stroke-width="0.6"/>
<line x1="310.2" y1="227.2990195794939" x2="311.5" y2="227.2990195794939" stroke="#222" stroke-width="0.6"/>
<line x1="310.2" y1="225.24030546178602" x2="311.5" y2="225.24030546178602" stroke="#222" stroke-width="0.6"/>
<line x1="310.2" y1="223.424390914904" x2="311.5" y2="223.424390914904" stroke="#222" stroke-width="0.6"/>
<line x1="309.3" y1="221.8" x2="311.5" y2="221.8" stroke="#222" stroke-width="0.9"/>
<text x="306.0" y="330.40000000000003" font-size="6.6" fill="#222" text-anchor="end" stroke="#222" stroke-width="0.12">0.01</text>
<text x="306.0" y="294.90000000000003" font-size="6.6" fill="#222" text-anchor="end" stroke="#222" stroke-width="0.12">0.1</text>
<text x="306.0" y="259.40000000000003" font-size="6.6" fill="#222" text-anchor="end" stroke="#222" stroke-width="0.12">1</text>
<text x="306.0" y="223.9" font-size="6.6" fill="#222" text-anchor="end" stroke="#222" stroke-width="0.12">10</text>
<line x1="311.5" y1="327.5" x2="513.1" y2="327.5" stroke="#222" stroke-width="1.1"/>
<line x1="332.6" y1="327.5" x2="332.6" y2="329.5" stroke="#222" stroke-width="0.9"/>
<text x="332.6" y="339.7" font-size="6.8" fill="#222" text-anchor="middle" stroke="#222" stroke-width="0.12" textLength="28.3" lengthAdjust="spacingAndGlyphs">Screening</text>
<line x1="364.7" y1="327.5" x2="364.7" y2="329.5" stroke="#222" stroke-width="0.9"/>
<text x="364.7" y="339.7" font-size="6.8" fill="#222" text-anchor="middle" stroke="#222" stroke-width="0.12" textLength="20.5" lengthAdjust="spacingAndGlyphs">C1D15</text>
<line x1="396.5" y1="327.5" x2="396.5" y2="329.5" stroke="#222" stroke-width="0.9"/>
<text x="396.5" y="339.7" font-size="6.8" fill="#222" text-anchor="middle" stroke="#222" stroke-width="0.12" textLength="19.5" lengthAdjust="spacingAndGlyphs">C1D16</text>
<line x1="428.2" y1="327.5" x2="428.2" y2="329.5" stroke="#222" stroke-width="0.9"/>
<text x="428.2" y="339.7" font-size="6.8" fill="#222" text-anchor="middle" stroke="#222" stroke-width="0.12" textLength="15.8" lengthAdjust="spacingAndGlyphs">C2D2</text>
<line x1="459.8" y1="327.5" x2="459.8" y2="329.5" stroke="#222" stroke-width="0.9"/>
<text x="459.8" y="339.7" font-size="6.8" fill="#222" text-anchor="middle" stroke="#222" stroke-width="0.12" textLength="15.8" lengthAdjust="spacingAndGlyphs">C3D2</text>
<line x1="491.6" y1="327.5" x2="491.6" y2="329.5" stroke="#222" stroke-width="0.9"/>
<text x="491.6" y="339.7" font-size="6.8" fill="#222" text-anchor="middle" stroke="#222" stroke-width="0.12" textLength="15.7" lengthAdjust="spacingAndGlyphs">C4D2</text>
<text x="287.5" y="273.3" font-size="7.2" fill="#222" text-anchor="middle" stroke="#222" stroke-width="0.12" textLength="80.3" lengthAdjust="spacingAndGlyphs" transform="rotate(-90 287.5 273.3)">Fold change from baseline</text>
<rect x="175.1" y="430.8" width="196.1" height="17.1" fill="#ededed" stroke="none" stroke-width="0"/>
<text x="145.6" y="366.1" font-size="11.2" fill="#111" font-weight="bold" stroke="#111" stroke-width="0.35" textLength="6.3" lengthAdjust="spacingAndGlyphs">E</text>
<text x="188.8" y="363.7" font-size="9.3" fill="#222" stroke="#222" stroke-width="0.12" textLength="169.4" lengthAdjust="spacingAndGlyphs">Bone Marrow T Cell CD38 Receptor Density</text>
<text x="301.7" y="374.1" font-size="6.7" fill="#222" text-anchor="middle" stroke="#222" stroke-width="0.12" textLength="21.7" lengthAdjust="spacingAndGlyphs">DR: n.s.</text>
<text x="302.1" y="381.6" font-size="6.7" fill="#222" text-anchor="middle" stroke="#222" stroke-width="0.12" textLength="24.3" lengthAdjust="spacingAndGlyphs">ΔBL: n.s.</text>
<path d="M240.8 398.0 L240.8 386.3 Q240.8 385.0 242.10000000000002 385.0 L361.2 385.0 Q362.5 385.0 362.5 386.3 L362.5 398.0" fill="none" stroke="#3a3a3a" stroke-width="1.2"/>
<line x1="183.9" y1="440.1" x2="203.8" y2="440.1" stroke="#1f2b3b" stroke-width="1.4"/>
<line x1="225.4" y1="416.3" x2="225.4" y2="420.9" stroke="#3c3c3c" stroke-width="1.1"/>
<line x1="220.4" y1="416.3" x2="230.4" y2="416.3" stroke="#3c3c3c" stroke-width="1.1"/>
<line x1="225.4" y1="443.2" x2="225.4" y2="454.4" stroke="#3c3c3c" stroke-width="1.1"/>
<line x1="220.4" y1="454.4" x2="230.4" y2="454.4" stroke="#3c3c3c" stroke-width="1.1"/>
<rect x="215.45000000000002" y="420.9" width="19.9" height="22.30000000000001" fill="#33a5df" stroke="none" stroke-width="0"/>
<line x1="215.45000000000002" y1="428.7" x2="235.35" y2="428.7" stroke="#17324d" stroke-width="1.3"/>
<circle cx="225.4" cy="414.2" r="0.7" fill="#555"/>
<circle cx="225.3" cy="471.9" r="0.6" fill="#555"/>
<line x1="257.0" y1="399.9" x2="257.0" y2="414.4" stroke="#3c3c3c" stroke-width="1.1"/>
<line x1="252.0" y1="399.9" x2="262.0" y2="399.9" stroke="#3c3c3c" stroke-width="1.1"/>
<line x1="257.0" y1="430.3" x2="257.0" y2="438.5" stroke="#3c3c3c" stroke-width="1.1"/>
<line x1="252.0" y1="438.5" x2="262.0" y2="438.5" stroke="#3c3c3c" stroke-width="1.1"/>
<rect x="247.05" y="414.4" width="19.9" height="15.900000000000034" fill="#33a5df" stroke="none" stroke-width="0"/>
<line x1="247.05" y1="419.3" x2="266.95" y2="419.3" stroke="#17324d" stroke-width="1.3"/>
<line x1="288.4" y1="406.6" x2="288.4" y2="437.3" stroke="#3c3c3c" stroke-width="1.1"/>
<line x1="283.4" y1="406.6" x2="293.4" y2="406.6" stroke="#3c3c3c" stroke-width="1.1"/>
<line x1="283.4" y1="437.3" x2="293.4" y2="437.3" stroke="#3c3c3c" stroke-width="1.1"/>
<line x1="278.7" y1="432.6" x2="298.1" y2="432.6" stroke="#2a3a4c" stroke-width="1.3"/>
<line x1="320.0" y1="396.1" x2="320.0" y2="412.7" stroke="#3c3c3c" stroke-width="1.1"/>
<line x1="315.0" y1="396.1" x2="325.0" y2="396.1" stroke="#3c3c3c" stroke-width="1.1"/>
<line x1="320.0" y1="438.4" x2="320.0" y2="465.3" stroke="#3c3c3c" stroke-width="1.1"/>
<line x1="315.0" y1="465.3" x2="325.0" y2="465.3" stroke="#3c3c3c" stroke-width="1.1"/>
<rect x="310.3" y="412.7" width="19.4" height="25.69999999999999" fill="#33a5df" stroke="none" stroke-width="0"/>
<line x1="310.3" y1="430.0" x2="329.7" y2="430.0" stroke="#17324d" stroke-width="1.3"/>
<circle cx="320" cy="390.9" r="0.6" fill="#555"/>
<line x1="341.9" y1="409.0" x2="361.3" y2="409.0" stroke="#333" stroke-width="1.2"/>
<line x1="172.5" y1="383.8" x2="172.5" y2="492.5" stroke="#222" stroke-width="1.1"/>
<line x1="170.3" y1="493.40000000000003" x2="172.5" y2="493.40000000000003" stroke="#222" stroke-width="0.9"/>
<line x1="171.2" y1="477.3551012311098" x2="172.5" y2="477.3551012311098" stroke="#222" stroke-width="0.6"/>
<line x1="171.2" y1="467.969437123442" x2="172.5" y2="467.969437123442" stroke="#222" stroke-width="0.6"/>
<line x1="171.2" y1="461.31020246221965" x2="172.5" y2="461.31020246221965" stroke="#222" stroke-width="0.6"/>
<line x1="171.2" y1="456.14489876889024" x2="172.5" y2="456.14489876889024" stroke="#222" stroke-width="0.6"/>
<line x1="171.2" y1="451.9245383545518" x2="172.5" y2="451.9245383545518" stroke="#222" stroke-width="0.6"/>
<line x1="171.2" y1="448.35627446724015" x2="172.5" y2="448.35627446724015" stroke="#222" stroke-width="0.6"/>
<line x1="171.2" y1="445.26530369332943" x2="172.5" y2="445.26530369332943" stroke="#222" stroke-width="0.6"/>
<line x1="171.2" y1="442.538874246884" x2="172.5" y2="442.538874246884" stroke="#222" stroke-width="0.6"/>
<line x1="170.3" y1="440.1" x2="172.5" y2="440.1" stroke="#222" stroke-width="0.9"/>
<line x1="171.2" y1="424.0551012311098" x2="172.5" y2="424.0551012311098" stroke="#222" stroke-width="0.6"/>
<line x1="171.2" y1="414.66943712344204" x2="172.5" y2="414.66943712344204" stroke="#222" stroke-width="0.6"/>
<line x1="171.2" y1="408.01020246221964" x2="172.5" y2="408.01020246221964" stroke="#222" stroke-width="0.6"/>
<line x1="171.2" y1="402.84489876889023" x2="172.5" y2="402.84489876889023" stroke="#222" stroke-width="0.6"/>
<line x1="171.2" y1="398.6245383545518" x2="172.5" y2="398.6245383545518" stroke="#222" stroke-width="0.6"/>
<line x1="171.2" y1="395.05627446724014" x2="172.5" y2="395.05627446724014" stroke="#222" stroke-width="0.6"/>
<line x1="171.2" y1="391.9653036933294" x2="172.5" y2="391.9653036933294" stroke="#222" stroke-width="0.6"/>
<line x1="171.2" y1="389.238874246884" x2="172.5" y2="389.238874246884" stroke="#222" stroke-width="0.6"/>
<line x1="170.3" y1="386.8" x2="172.5" y2="386.8" stroke="#222" stroke-width="0.9"/>
<text x="166.8" y="495.50000000000006" font-size="6.6" fill="#222" text-anchor="end" stroke="#222" stroke-width="0.12">0.1</text>
<text x="166.8" y="442.20000000000005" font-size="6.6" fill="#222" text-anchor="end" stroke="#222" stroke-width="0.12">1</text>
<text x="166.8" y="388.90000000000003" font-size="6.6" fill="#222" text-anchor="end" stroke="#222" stroke-width="0.12">10</text>
<line x1="172.5" y1="492.5" x2="374.8" y2="492.5" stroke="#222" stroke-width="1.1"/>
<line x1="193.3" y1="492.5" x2="193.3" y2="494.5" stroke="#222" stroke-width="0.9"/>
<text x="193.3" y="504.8" font-size="6.8" fill="#222" text-anchor="middle" stroke="#222" stroke-width="0.12" textLength="29.6" lengthAdjust="spacingAndGlyphs">Screening</text>
<line x1="225.3" y1="492.5" x2="225.3" y2="494.5" stroke="#222" stroke-width="0.9"/>
<text x="225.3" y="504.8" font-size="6.8" fill="#222" text-anchor="middle" stroke="#222" stroke-width="0.12" textLength="20.8" lengthAdjust="spacingAndGlyphs">C1D15</text>
<line x1="256.4" y1="492.5" x2="256.4" y2="494.5" stroke="#222" stroke-width="0.9"/>
<text x="256.4" y="504.8" font-size="6.8" fill="#222" text-anchor="middle" stroke="#222" stroke-width="0.12" textLength="20" lengthAdjust="spacingAndGlyphs">C1D16</text>
<line x1="288.5" y1="492.5" x2="288.5" y2="494.5" stroke="#222" stroke-width="0.9"/>
<text x="288.5" y="504.8" font-size="6.8" fill="#222" text-anchor="middle" stroke="#222" stroke-width="0.12" textLength="16" lengthAdjust="spacingAndGlyphs">C2D2</text>
<line x1="319.8" y1="492.5" x2="319.8" y2="494.5" stroke="#222" stroke-width="0.9"/>
<text x="319.8" y="504.8" font-size="6.8" fill="#222" text-anchor="middle" stroke="#222" stroke-width="0.12" textLength="16" lengthAdjust="spacingAndGlyphs">C3D2</text>
<line x1="351.5" y1="492.5" x2="351.5" y2="494.5" stroke="#222" stroke-width="0.9"/>
<text x="351.5" y="504.8" font-size="6.8" fill="#222" text-anchor="middle" stroke="#222" stroke-width="0.12" textLength="16.5" lengthAdjust="spacingAndGlyphs">C4D2</text>
<text x="152.5" y="438.3" font-size="7.2" fill="#222" text-anchor="middle" stroke="#222" stroke-width="0.12" textLength="80.3" lengthAdjust="spacingAndGlyphs" transform="rotate(-90 152.5 438.3)">Fold change from baseline</text>
<rect x="0.5" y="0.5" width="519" height="512" fill="none" stroke="#666" stroke-width="1"/>
</g></svg>
</div></body></html>
